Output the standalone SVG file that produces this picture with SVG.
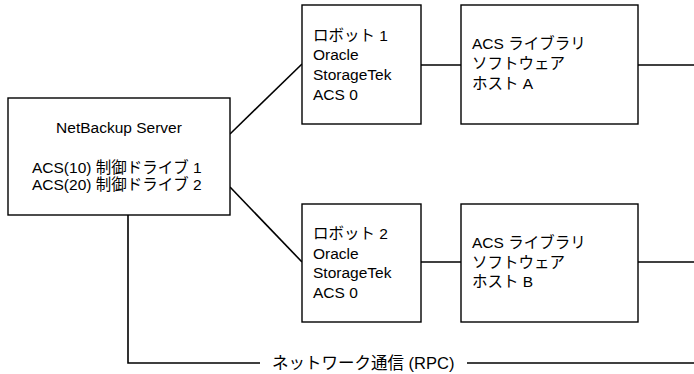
<svg xmlns="http://www.w3.org/2000/svg" width="694" height="374" viewBox="0 0 694 374">
<style>
.box{fill:#fff;stroke:#000;stroke-width:1.4}
.ln{fill:none;stroke:#000;stroke-width:1.6}
text{font-family:"Liberation Sans","Noto Sans CJK JP",sans-serif;font-size:15.5px;fill:#000}
.big{font-size:16.5px}
</style>
<rect width="694" height="374" fill="#fff"/>
<g id="connectors">
<line class="ln" x1="230" y1="134" x2="302" y2="64"/>
<line class="ln" x1="230" y1="187" x2="302" y2="262"/>
<line class="ln" x1="421" y1="65" x2="461" y2="65"/>
<line class="ln" x1="638" y1="65" x2="694" y2="65"/>
<line class="ln" x1="421" y1="262" x2="461" y2="262"/>
<line class="ln" x1="638" y1="262" x2="694" y2="262"/>
<polyline class="ln" points="128,215 128,363 260,363"/>
<line class="ln" x1="467" y1="363" x2="694" y2="363"/>
<text class="big" x="272" y="369">ネットワーク通信 (RPC)</text>
</g>
<g id="server">
<rect class="box" x="8" y="98" width="222" height="117"/>
<text x="119" y="133" text-anchor="middle">NetBackup Server</text>
<text x="32" y="173">ACS(10) 制御ドライブ 1</text>
<text x="32" y="190">ACS(20) 制御ドライブ 2</text>
</g>
<g id="robot1">
<rect class="box" x="302" y="5" width="119" height="119"/>
<text x="313" y="40.5">ロボット 1</text>
<text x="313" y="60">Oracle</text>
<text x="313" y="80">StorageTek</text>
<text x="313" y="99.5">ACS 0</text>
</g>
<g id="libA">
<rect class="box" x="461" y="5" width="177" height="119"/>
<text x="472" y="49">ACS ライブラリ</text>
<text x="472" y="69">ソフトウェア</text>
<text x="472" y="89">ホスト A</text>
</g>
<g id="robot2">
<rect class="box" x="302" y="204" width="119" height="118"/>
<text x="313" y="239">ロボット 2</text>
<text x="313" y="259">Oracle</text>
<text x="313" y="278">StorageTek</text>
<text x="313" y="297.5">ACS 0</text>
</g>
<g id="libB">
<rect class="box" x="461" y="204" width="177" height="118"/>
<text x="472" y="248">ACS ライブラリ</text>
<text x="472" y="268">ソフトウェア</text>
<text x="472" y="287">ホスト B</text>
</g>
</svg>
